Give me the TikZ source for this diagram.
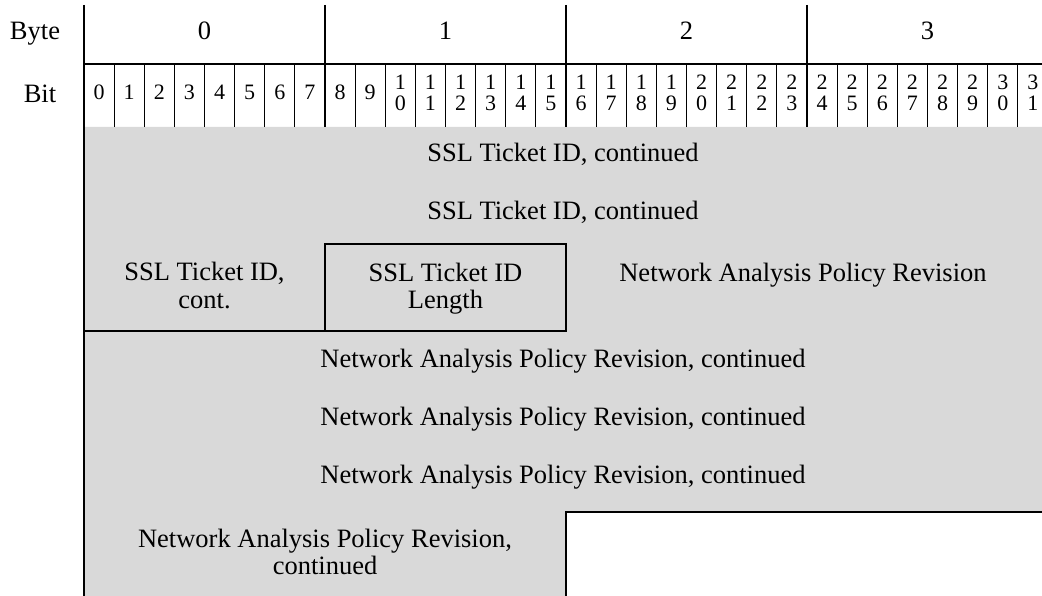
\documentclass[tikz,border=0pt]{standalone}
\usepackage{fontspec}
\setmainfont{Liberation Serif}
\definecolor{cellgray}{RGB}{217,217,217}
\begin{document}
\begin{tikzpicture}[x=1pt,y=-1pt,
  thickline/.style={line width=2pt,black},
  thinline/.style={line width=0.8pt,black},
  lbl/.style={font=\fontsize{26.5}{27.5}\selectfont,inner sep=0pt,align=center},
  bitlbl/.style={font=\fontsize{22}{21}\selectfont,inner sep=0pt,align=center}]
\useasboundingbox (0,0) rectangle (1042,596);
% gray field area
\fill[cellgray] (84,127) -- (1042,127) -- (1042,512) -- (566,512) -- (566,596) -- (84,596) -- cycle;
% header labels
\node[lbl,anchor=base] (byte) at (35,40) {Byte};
\node[lbl,anchor=base] (bit) at (40,103) {Bit};
\foreach \b in {0,1,2,3}{
  \pgfmathsetmacro{\bx}{84+241*\b+120.5}
  \node[lbl,anchor=base] (byte\b) at (\bx,40) {\b};
}
\foreach \i in {0,...,31}{
  \pgfmathsetmacro{\cx}{84+30.125*(\i+0.5)}
  \ifnum\i<10
    \node[bitlbl,anchor=base] (bit\i) at (\cx,100) {\i};
  \else
    \pgfmathtruncatemacro{\tens}{\i/10}
    \pgfmathtruncatemacro{\ones}{\i-10*\tens}
    \node[bitlbl] (bit\i) at (\cx,93) {\tens\\\ones};
  \fi
}
% bit separators
\foreach \i in {1,...,31}{
  \pgfmathsetmacro{\sx}{84+30.125*\i}
  \draw[thinline] (\sx,64) -- (\sx,127);
}
% thick structure lines
\draw[thickline] (84,5) -- (84,596);
\draw[thickline] (84,64) -- (1042,64);
\foreach \s in {325,566,807}{
  \draw[thickline] (\s,5) -- (\s,127);
}
% row 3 boxes
\draw[thickline] (84,331) -- (325,331);
\draw[thickline] (325,244) rectangle (566,331);
% last row boundary
\draw[thickline] (1042,512) -- (566,512) -- (566,596);
% field labels
\node[lbl,anchor=base] (r1) at (563,162) {SSL Ticket ID, continued};
\node[lbl,anchor=base] (r2) at (563,220) {SSL Ticket ID, continued};
\node[lbl] (r3a) at (204.5,285.7) {SSL Ticket ID,\\cont.};
\node[lbl] (r3b) at (445.5,288.6) {SSL Ticket ID\\Length};
\node[lbl,anchor=base] (r3c) at (803,282) {Network Analysis Policy Revision};
\node[lbl,anchor=base] (r4) at (563,367) {Network Analysis Policy Revision, continued};
\node[lbl,anchor=base] (r5) at (563,425) {Network Analysis Policy Revision, continued};
\node[lbl,anchor=base] (r6) at (563,483) {Network Analysis Policy Revision, continued};
\node[lbl] (r7) at (325,551.7) {Network Analysis Policy Revision,\\continued};
\end{tikzpicture}
\end{document}
